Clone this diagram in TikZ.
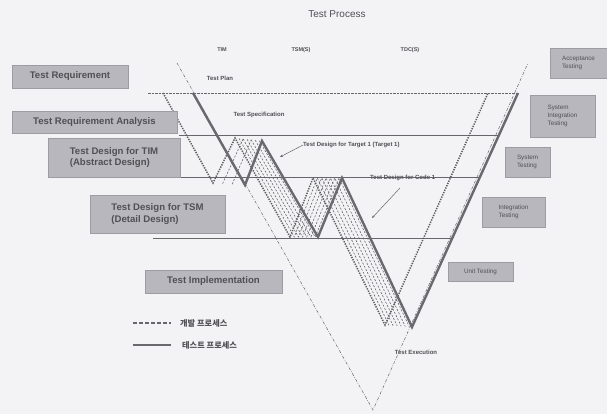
\documentclass[tikz,border=0pt]{standalone}
\usepackage{fontspec}
\setmainfont{Liberation Sans}
\newfontfamily\kr{Noto Sans CJK KR}
\usetikzlibrary{arrows.meta,calc}
\definecolor{bgc}{HTML}{F3F3F5}
\definecolor{boxc}{HTML}{B7B7BD}
\definecolor{boxd}{HTML}{9C9CA2}
\definecolor{txt}{HTML}{505055}
\definecolor{linec}{HTML}{66666B}
\definecolor{thickc}{HTML}{6A6A6E}
\begin{document}
\begin{tikzpicture}[x=1pt,y=-1pt,
  lbox/.style={fill=boxc, draw=boxd, line width=0.8pt, text=txt, font=\fontsize{9.6}{11.5}\selectfont\bfseries, inner sep=2pt, align=left},
  rbox/.style={fill=boxc, draw=boxd, line width=0.6pt, text=txt, font=\fontsize{6.3}{7.6}\selectfont, inner sep=2pt, align=left},
  lbl/.style={text=txt, font=\fontsize{6}{7}\selectfont\bfseries, inner sep=0pt},
  hline/.style={draw=linec, line width=0.6pt},
  tline/.style={draw=thickc, line width=2.4pt, line join=miter},
  dline/.style={draw=linec!90!black, line width=1.5pt, dash pattern=on 1.3pt off 1.2pt},
  fline/.style={draw=linec, line width=0.6pt, dash pattern=on 2pt off 1.6pt},
  bigv/.style={draw=linec, line width=0.5pt, dash pattern=on 3pt off 1.5pt on 0.6pt off 1.5pt},
  lead/.style={draw=linec, line width=0.5pt, -{Stealth[length=3pt,width=2.5pt]}}
]
\useasboundingbox[fill=bgc] (0,0) rectangle (607,414);

% path points
\coordinate (T1) at (193,93);  \coordinate (T2) at (245,185);
\coordinate (T3) at (262,141); \coordinate (T4) at (318,237);
\coordinate (T5) at (342,178); \coordinate (T6) at (412,327);
\coordinate (T7) at (518,93);
\coordinate (D1) at (163,93);  \coordinate (D2) at (213,183);
\coordinate (D3) at (235,138); \coordinate (D4) at (290,237);
\coordinate (D5) at (313,178); \coordinate (D6) at (385,325);
\coordinate (D7) at (488,93);
\coordinate (VL) at (177,63); \coordinate (VB) at (373,410); \coordinate (VR) at (528,63);

% horizontal levels
\coordinate (H1a) at (148,93);  \coordinate (H1b) at (518,93);
\coordinate (H2a) at (179,135); \coordinate (H2b) at (499,135);
\coordinate (H3a) at (150,177); \coordinate (H3b) at (479,177);
\coordinate (H4a) at (153,238); \coordinate (H4b) at (451,238);
\draw[hline, dash pattern=on 2.5pt off 1pt] (H1a) -- (H1b);
\draw[hline] (H2a) -- (H2b);
\draw[hline] (H3a) -- (H3b);
\draw[hline] (H4a) -- (H4b);

% big V
\draw[bigv] (VL) -- (VB) -- (VR);

% intermediate target lines
\foreach \t in {0.15,0.3,0.45,0.6,0.75,0.9}{
  \draw[fline] ($(D3)!\t!(T3)$) -- ($(D4)!\t!(T4)$) -- ($(D5)!\t!(T5)$) -- ($(D6)!\t!(T6)$);
}
\foreach \t in {0.3,0.6}{
  \draw[fline] ($(D2)!\t!(T2)$) -- ($(D3)!\t!(T3)$);
}

% development process (dotted)
\draw[dline] (D1) -- (D2) -- (D3) -- (D4) -- (D5) -- (D6) -- (D7);

% test process (thick)
\draw[tline] (T1) -- (T2) -- (T3) -- (T4) -- (T5) -- (T6) -- (T7);

% left boxes
\node[lbox, minimum width=116pt, minimum height=23pt] (b1) at (70,76.5) {Test Requirement};
\node[lbox, minimum width=165pt, minimum height=22pt] (b2) at (94.5,122) {Test Requirement Analysis};
\node[lbox, minimum width=132pt, minimum height=39pt] (b3) at (114,157.5) {Test Design for TIM\\(Abstract Design)};
\node[lbox, minimum width=135pt, minimum height=38pt] (b4) at (157.5,214) {Test Design for TSM\\(Detail Design)};
\node[lbox, minimum width=137pt, minimum height=23pt] (b5) at (213.5,281.5) {Test Implementation};

% right boxes
\node[rbox, minimum width=57pt, minimum height=30pt] (r1) at (578.5,63) {Acceptance\\Testing};
\node[rbox, minimum width=65pt, minimum height=42pt] (r2) at (562.5,116) {System\\Integration\\Testing};
\node[rbox, minimum width=45pt, minimum height=30pt] (r3) at (527.5,162) {System\\Testing};
\node[rbox, minimum width=63pt, minimum height=30pt] (r4) at (513.5,212) {Integration\\Testing};
\node[rbox, minimum width=65pt, minimum height=19pt] (r5) at (480.5,271.5) {Unit Testing};

% labels
\node[text=txt, font=\fontsize{10}{12}\selectfont] (title) at (337,14) {Test Process};
\node[lbl, font=\fontsize{5.5}{6}\selectfont\bfseries] (tim) at (222,50) {TIM};
\node[lbl, font=\fontsize{5.5}{6}\selectfont\bfseries] (tsm) at (301,50) {TSM(S)};
\node[lbl, font=\fontsize{5.5}{6}\selectfont\bfseries] (tdc) at (410,50) {TDC(S)};
\node[lbl] (plan) at (220,78) {Test Plan};
\node[lbl] (spec) at (259,115) {Test Specification};
\node[lbl, anchor=west] (tgt) at (303,145) {Test Design for Target 1 (Target 1)};
\node[lbl, anchor=west] (code) at (370,177.5) {Test Design for Code 1};
\node[lbl] (exec) at (416,352) {Test Execution};

% leader arrows
\coordinate (a1) at (280,157);
\coordinate (a2s) at (400,188);
\coordinate (a2) at (372,218);
\draw[lead] (tgt.west) -- (a1);
\draw[lead] (a2s) -- (a2);

% legend
\coordinate (l1a) at (133,323); \coordinate (l1b) at (171,323);
\coordinate (l2a) at (133,345); \coordinate (l2b) at (171,345);
\draw[draw=linec, line width=1.2pt, dash pattern=on 4pt off 2pt] (l1a) -- (l1b);
\draw[draw=thickc, line width=1.8pt] (l2a) -- (l2b);
\node[lbl, anchor=west, font=\kr\fontsize{8.2}{9}\selectfont\bfseries] (leg1) at (180,323) {개발 프로세스};
\node[lbl, anchor=west, font=\kr\fontsize{8.2}{9}\selectfont\bfseries] (leg2) at (182,345) {테스트 프로세스};
\end{tikzpicture}
\end{document}
